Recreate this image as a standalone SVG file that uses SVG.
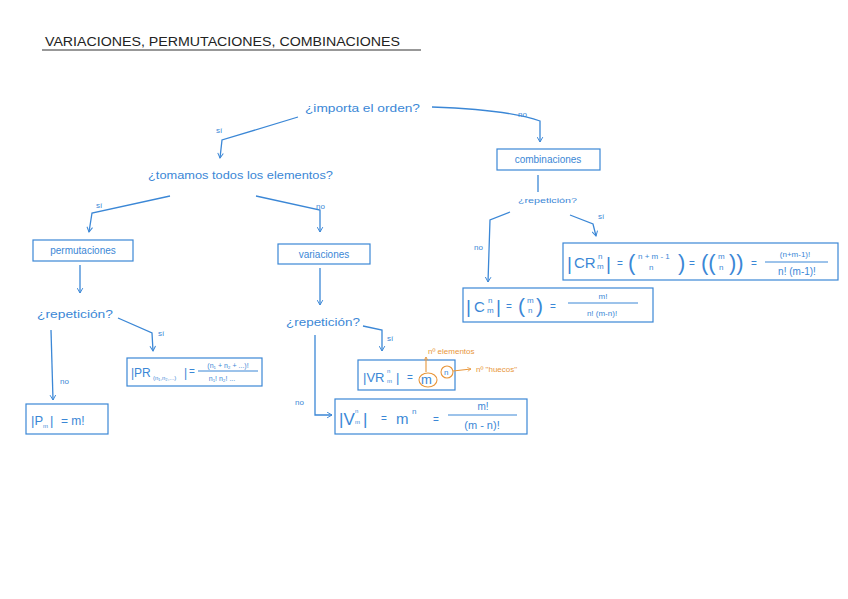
<svg xmlns="http://www.w3.org/2000/svg" width="848" height="599" viewBox="0 0 848 599">
<defs>
<marker id="ah" viewBox="0 0 10 10" refX="8" refY="5" markerWidth="7" markerHeight="7" orient="auto-start-reverse" markerUnits="userSpaceOnUse">
<path d="M1,1 L8,5 L1,9" fill="none" stroke="#3b87d6" stroke-width="1.4"/>
</marker>
<marker id="aho" viewBox="0 0 10 10" refX="8" refY="5" markerWidth="5" markerHeight="5" orient="auto" markerUnits="userSpaceOnUse">
<path d="M1,1 L8,5 L1,9" fill="none" stroke="#e8963a" stroke-width="1.4"/>
</marker>
<style>
text{font-family:"Liberation Sans","DejaVu Sans",sans-serif;fill:#3b87d6}
.t{font-size:10px}
.q{font-size:11px}
.s{font-size:8px}
.xs{font-size:6px}
.box{fill:none;stroke:#3b87d6;stroke-width:1.2}
.c{fill:none;stroke:#3b87d6;stroke-width:1.3}
.o{fill:none;stroke:#e8963a;stroke-width:1.1}
.ot{fill:#e8963a;font-size:8px}
.frac{stroke:#3b87d6;stroke-width:1}
</style>
</defs>
<rect width="848" height="599" fill="#ffffff"/>

<g id="title">
<text x="45" y="46" style="fill:#222;font-size:12px" textLength="355" lengthAdjust="spacingAndGlyphs">VARIACIONES, PERMUTACIONES, COMBINACIONES</text>
<line x1="42" y1="50" x2="421" y2="50" stroke="#333" stroke-width="1.1"/>
</g>

<g id="connectors">
<path class="c" d="M298,117 L222,140 L220,158" marker-end="url(#ah)"/>
<path class="c" d="M432,107 Q510,110 540,121 L540,142" marker-end="url(#ah)"/>
<path class="c" d="M170,196 L92,213 L89,232" marker-end="url(#ah)"/>
<path class="c" d="M256,196 L320,210 L320,232" marker-end="url(#ah)"/>
<path class="c" d="M80,265 L80,293" marker-end="url(#ah)"/>
<path class="c" d="M51,330 L53,400" marker-end="url(#ah)"/>
<path class="c" d="M118,318 L152,333 L153,351" marker-end="url(#ah)"/>
<path class="c" d="M320,268 L320,305" marker-end="url(#ah)"/>
<path class="c" d="M363,326 L382,330 L382,351" marker-end="url(#ah)"/>
<path class="c" d="M315,335 L315,415 L332,415" marker-end="url(#ah)"/>
<path class="c" d="M538,175 L538,192"/>
<path class="c" d="M510,212 L490,220 L488,282" marker-end="url(#ah)"/>
<path class="c" d="M570,215 L593,224 L596,236" marker-end="url(#ah)"/>
<text class="s" x="216" y="133">sí</text>
<text class="s" x="518" y="117">no</text>
<text class="s" x="96" y="208">sí</text>
<text class="s" x="316" y="209">no</text>
<text class="s" x="60" y="384">no</text>
<text class="s" x="158" y="336">sí</text>
<text class="s" x="387" y="341">sí</text>
<text class="s" x="295" y="405">no</text>
<text class="s" x="474" y="250">no</text>
<text class="s" x="598" y="219">sí</text>
</g>

<g id="q-orden"><text class="q" x="305" y="112" textLength="115" lengthAdjust="spacingAndGlyphs">¿importa el orden?</text></g>
<g id="q-todos"><text class="q" x="148" y="179" textLength="185" lengthAdjust="spacingAndGlyphs">¿tomamos todos los elementos?</text></g>

<g id="n-permutaciones">
<rect class="box" x="33" y="240" width="100" height="21"/>
<text class="t" x="83" y="254" text-anchor="middle">permutaciones</text>
</g>
<g id="n-variaciones">
<rect class="box" x="278" y="244" width="92" height="20"/>
<text class="t" x="324" y="258" text-anchor="middle">variaciones</text>
</g>
<g id="n-combinaciones">
<rect class="box" x="497" y="149" width="103" height="21"/>
<text class="t" x="548" y="163" text-anchor="middle">combinaciones</text>
</g>

<g id="q-rep-p"><text class="q" x="37" y="318" textLength="76" lengthAdjust="spacingAndGlyphs">¿repetición?</text></g>
<g id="q-rep-v"><text class="q" x="286" y="326" textLength="74" lengthAdjust="spacingAndGlyphs">¿repetición?</text></g>
<g id="q-rep-c"><text class="s" x="518" y="203" textLength="59" lengthAdjust="spacingAndGlyphs">¿repetición?</text></g>

<g id="f-PR">
<rect class="box" x="127" y="358" width="135" height="28"/>
<text x="131" y="377" style="font-size:12px">|PR</text>
<text class="xs" x="153" y="380">(n₁,n₂,...)</text>
<text x="184" y="377" style="font-size:12px">|</text>
<text class="t" x="189" y="375">=</text>
<text style="font-size:7px" x="228" y="368" text-anchor="middle">(n₁ + n₂ + ...)!</text>
<line class="frac" x1="198" y1="371" x2="258" y2="371"/>
<text style="font-size:7px" x="222" y="381" text-anchor="middle">n₁! n₂! ...</text>
</g>

<g id="f-P">
<rect class="box" x="26" y="404" width="82" height="30"/>
<text x="31" y="425" style="font-size:13px">|P</text>
<text class="xs" x="43" y="428">m</text>
<text x="50" y="425" style="font-size:13px">|</text>
<text x="61" y="425" style="font-size:12px">= m!</text>
</g>

<g id="f-VR">
<rect class="box" x="358" y="360" width="97" height="30"/>
<text x="363" y="382" style="font-size:13px">|VR</text>
<text class="xs" x="387" y="373">n</text>
<text class="xs" x="387" y="383">m</text>
<text x="396" y="382" style="font-size:13px">|</text>
<text class="t" x="407" y="381">=</text>
<text x="421" y="384" style="font-size:13px">m</text>
<text class="s" x="444" y="375">n</text>
<ellipse class="o" cx="428" cy="380" rx="9" ry="7"/>
<circle class="o" cx="447" cy="372" r="6"/>
<path class="o" d="M426,372 L426,357" marker-end="url(#aho)"/>
<path class="o" d="M453,371 L471,369" marker-end="url(#aho)"/>
<text class="ot" x="428" y="354">nº elementos</text>
<text class="ot" x="476" y="372">nº "huecos"</text>
</g>

<g id="f-V">
<rect class="box" x="335" y="399" width="192" height="35"/>
<text x="339" y="425" style="font-size:17px">|V</text>
<text class="xs" x="355" y="413">n</text>
<text class="xs" x="355" y="424">m</text>
<text x="363" y="425" style="font-size:17px">|</text>
<text class="t" x="381" y="422">=</text>
<text x="396" y="424" style="font-size:15px">m</text>
<text class="s" x="412" y="414">n</text>
<text class="t" x="433" y="423">=</text>
<text class="t" x="483" y="410" text-anchor="middle">m!</text>
<line class="frac" x1="448" y1="415" x2="517" y2="415"/>
<text style="font-size:11px" x="482" y="429" text-anchor="middle">(m - n)!</text>
</g>

<g id="f-CR">
<rect class="box" x="563" y="243" width="275" height="37"/>
<text x="567" y="270" style="font-size:19px">|</text>
<text x="574" y="268" style="font-size:15px">CR</text>
<text class="s" x="598" y="259">n</text>
<text class="s" x="597" y="269">m</text>
<text x="606" y="270" style="font-size:19px">|</text>
<text class="t" x="617" y="267">=</text>
<text x="628" y="270" style="font-size:22px">(</text>
<text class="s" x="638" y="259">n + m - 1</text>
<text class="s" x="649" y="270">n</text>
<text x="678" y="270" style="font-size:22px">)</text>
<text class="t" x="689" y="267">=</text>
<text x="701" y="270" style="font-size:22px">((</text>
<text class="s" x="718" y="259">m</text>
<text class="s" x="719" y="270">n</text>
<text x="729" y="270" style="font-size:22px">))</text>
<text class="t" x="751" y="267">=</text>
<text class="s" x="795" y="257" text-anchor="middle">(n+m-1)!</text>
<line class="frac" x1="765" y1="262" x2="828" y2="262"/>
<text class="t" x="797" y="275" text-anchor="middle">n! (m-1)!</text>
</g>

<g id="f-C">
<rect class="box" x="463" y="288" width="190" height="34"/>
<text x="466" y="313" style="font-size:19px">|</text>
<text x="474" y="312" style="font-size:15px">C</text>
<text class="s" x="488" y="303">n</text>
<text class="s" x="487" y="313">m</text>
<text x="496" y="313" style="font-size:19px">|</text>
<text class="t" x="506" y="310">=</text>
<text x="518" y="313" style="font-size:21px">(</text>
<text class="s" x="527" y="303">m</text>
<text class="s" x="528" y="313">n</text>
<text x="536" y="313" style="font-size:21px">)</text>
<text class="t" x="550" y="310">=</text>
<text class="s" x="603" y="299" text-anchor="middle">m!</text>
<line class="frac" x1="568" y1="303" x2="638" y2="303"/>
<text class="s" x="602" y="316" text-anchor="middle">n! (m-n)!</text>
</g>
</svg>
